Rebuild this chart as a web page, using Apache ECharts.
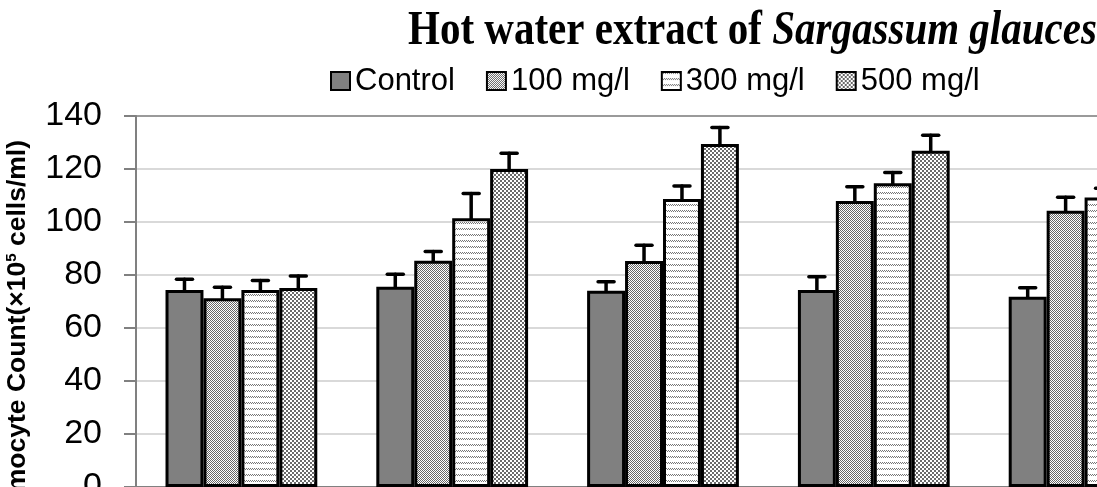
<!DOCTYPE html>
<html>
<head>
<meta charset="utf-8">
<script src="https://cdn.jsdelivr.net/npm/echarts@6/dist/echarts.min.js"></script>
<style>
  html, body { margin: 0; padding: 0; overflow: hidden; background: #fff; }
  #chart { width: 1250px; height: 560px; }
</style>
</head>
<body>
<div id="chart"></div>
<script>
// data (x10^5 cells/ml)
var categories = ['Day 0', 'Day 1', 'Day 2', 'Day 3', 'Day 4']
var seriesNames = ['Control', '100 mg/l', '300 mg/l', '500 mg/l']
var control = [74.3, 75.6, 74.1, 74.3, 71.8]
var dose100 = [71.2, 85.4, 85.3, 107.9, 104.2]
var dose300 = [74.3, 101.4, 108.7, 114.6, 109.2]
var dose500 = [75.1, 120.0, 129.4, 126.9, 118.0]
var controlErr = [4.1, 4.7, 3.4, 5.0, 3.4]
var dose100Err = [4.2, 3.5, 5.9, 5.4, 5.1]
var dose300Err = [3.6, 9.4, 4.9, 4.1, 3.5]
var dose500Err = [4.5, 5.9, 6.3, 5.8, 5.0]
var yTicks = [0, 20, 40, 60, 80, 100, 120, 140]

// little fill patterns like the excel ones
function makePattern (w, h, draw) {
  var c = document.createElement('canvas')
  c.width = w
  c.height = h
  var ctx = c.getContext('2d')
  ctx.fillStyle = '#fff'
  ctx.fillRect(0, 0, w, h)
  draw(ctx)
  return { image: c, repeat: 'repeat' }
}
var fineChecker = makePattern(2, 2, function (ctx) {
  ctx.fillStyle = '#666'
  ctx.fillRect(0, 0, 1, 1)
  ctx.fillRect(1, 1, 1, 1)
})
var dottedRows = makePattern(2, 6, function (ctx) {
  ctx.fillStyle = '#777'
  ctx.fillRect(0, 0, 1, 1)
  ctx.fillRect(1, 1, 1, 1)
})
var coarseChecker = makePattern(4, 4, function (ctx) {
  ctx.fillStyle = '#6a6a6a'
  ctx.fillRect(0, 0, 2, 2)
  ctx.fillRect(2, 2, 2, 2)
})

var values = [control, dose100, dose300, dose500]
var errors = [controlErr, dose100Err, dose300Err, dose500Err]
var fills = ['#808080', fineChecker, dottedRows, coarseChecker]
var groupShare = 0.72

var errData = []
values.forEach(function (arr, s) {
  arr.forEach(function (v, i) {
    errData.push([i, v, errors[s][i], s])
  })
})

function renderErr (params, api) {
  var cat = api.value(0)
  var val = api.value(1)
  var err = api.value(2)
  var s = api.value(3)
  var catW = api.size([1, 0])[0]
  var bw = catW * groupShare / 4
  var base = api.coord([cat, val])
  var x = base[0] - catW * groupShare / 2 + bw * (s + 0.5)
  var top = api.coord([cat, val + err])[1]
  var st = { stroke: '#000', lineWidth: 3.5, lineCap: 'round' }
  return {
    type: 'group',
    children: [
      { type: 'line', shape: { x1: x, y1: base[1], x2: x, y2: top }, style: st },
      { type: 'line', shape: { x1: x - 8, y1: top, x2: x + 8, y2: top }, style: st }
    ]
  }
}

var chart = echarts.init(document.getElementById('chart'))
var series = seriesNames.map(function (name, s) {
  return {
    name: name,
    type: 'bar',
    barGap: '0%',
    barCategoryGap: '28%',
    itemStyle: { color: fills[s], borderColor: '#000', borderWidth: 3 },
    data: values[s]
  }
})
series.push({
  type: 'custom',
  renderItem: renderErr,
  encode: { x: 0, y: 1 },
  data: errData,
  z: 3
})

var option = {
  backgroundColor: '#fff',
  animation: false,
  legend: {
    left: 325,
    top: 59,
    data: seriesNames,
    icon: 'rect',
    itemWidth: 19,
    itemHeight: 18,
    itemGap: 31,
    textStyle: { fontFamily: 'Liberation Sans', fontSize: 31, lineHeight: 34, color: '#000' }
  },
  grid: { left: 136, top: 116, right: 60, bottom: 73 },
  xAxis: {
    type: 'category',
    data: categories,
    axisLine: { lineStyle: { color: '#808080', width: 2 } },
    axisTick: { show: false },
    axisLabel: { fontSize: 30, color: '#000' }
  },
  yAxis: {
    type: 'value',
    min: 0,
    max: 140,
    interval: 20,
    axisLine: { show: true, lineStyle: { color: '#808080', width: 2 } },
    axisTick: { show: true, inside: false, length: 12, lineStyle: { color: '#808080', width: 2 } },
    axisLabel: {
      margin: 34,
      fontFamily: 'Liberation Sans',
      fontSize: 34,
      color: '#000',
      formatter: function (v) { return yTicks.indexOf(v) >= 0 ? String(v) : '' }
    },
    splitLine: {
      lineStyle: {
        color: ['#d9d9d9', '#d9d9d9', '#d9d9d9', '#d9d9d9', '#d9d9d9', '#d9d9d9', '#d9d9d9', '#9a9a9a'],
        width: 2
      }
    }
  },
  graphic: [{
    // title, stretched a bit taller like the excel export
    type: 'text',
    x: 408,
    y: 32,
    scaleY: 1.17,
    style: {
      text: '{a|Hot water extract of }{b|Sargassum glaucescens}',
      align: 'left',
      verticalAlign: 'middle',
      rich: {
        a: { fontFamily: 'Liberation Serif', fontWeight: 'bold', fontSize: 41, fill: '#000' },
        b: { fontFamily: 'Liberation Serif', fontWeight: 'bold', fontStyle: 'italic', fontSize: 41, fill: '#000' }
      }
    }
  }, {
    type: 'text',
    x: 18,
    y: 140,
    rotation: Math.PI / 2,
    style: {
      text: '{n|Haemocyte Count(×10}{sup|5}{n| cells/ml)}',
      align: 'right',
      verticalAlign: 'middle',
      rich: {
        n: { fontFamily: 'Liberation Sans', fontWeight: 'bold', fontSize: 26.5, fill: '#000' },
        sup: { fontFamily: 'Liberation Sans', fontWeight: 'bold', fontSize: 15, fill: '#000', padding: [0, 0, 13, 0] }
      }
    }
  }],
  series: series
}
chart.setOption(option)
</script>
</body>
</html>
